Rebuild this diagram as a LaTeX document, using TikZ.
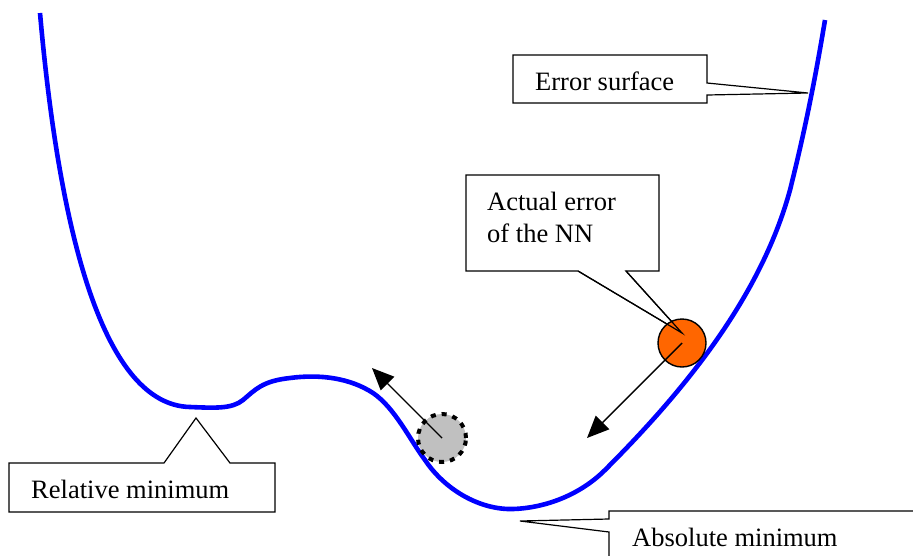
\documentclass[tikz,border=0pt]{standalone}
\usepackage{fontspec}
\setmainfont{Liberation Serif}
\usetikzlibrary{arrows.meta}
\begin{document}
\begin{tikzpicture}[x=1pt,y=-1pt,
  lbl/.style={anchor=base west, inner sep=0pt, font=\fontsize{26.5}{32}\selectfont},
  callout/.style={draw=black, line width=1.2pt, fill=white, line join=miter},
  surf/.style={draw={rgb,255:red,0;green,0;blue,255}, line width=4.6pt},
  mover/.style={draw=black, line width=1.4pt, -{Triangle[length=22pt,width=19pt]}}]
\useasboundingbox (0,0) rectangle (913,555);
\clip (0,0) rectangle (913,555);
% error surface
\draw[surf] (40,13) .. controls (60,240) and (105,405) .. (190,407)
  .. controls (215,408) and (232,409) .. (243,400)
  .. controls (255,390) and (262,381) .. (290,378)
  .. controls (320,374) and (350,378) .. (373,393)
  .. controls (395,408) and (410,440) .. (425,460)
  .. controls (445,490) and (480,510) .. (513,509)
  .. controls (545,508) and (580,495) .. (605,470)
  .. controls (680,395) and (760,300) .. (790,190)
  .. controls (805,130) and (815,80) .. (825,20);
% callouts
\draw[callout] (513,55) -- (707,55) -- (707,83) -- (808,93) -- (707,95) -- (707,103) -- (513,103) -- cycle;
\node[lbl] (es) at (535,90) {Error surface};
\draw[callout] (466,175) -- (659,175) -- (659,271) -- (626,271) -- (682,333) -- (578,271) -- (466,271) -- cycle;
\node[lbl] (ae1) at (487,210) {Actual error};
\node[lbl] (ae2) at (487,242) {of the NN};
\draw[callout] (9,463) -- (164,463) -- (196,418) -- (230,463) -- (275,463) -- (275,512) -- (9,512) -- cycle;
\node[lbl] (rm) at (31,498) {Relative minimum};
\draw[callout] (609,511) -- (930,511) -- (930,570) -- (609,570) -- (609,532) -- (520,521) -- (609,519) -- cycle;
\node[lbl] (am) at (632,546) {Absolute minimum};
% balls
\node[circle, draw=black, line width=1.4pt, fill={rgb,255:red,255;green,102;blue,0}, minimum size=48pt, inner sep=0pt] (ball) at (682,343) {};
\node[circle, draw=black, line width=4pt, dash pattern=on 5pt off 6pt, fill={rgb,255:red,192;green,192;blue,192}, minimum size=48pt, inner sep=0pt] (gball) at (442,438) {};
\coordinate (tipA) at (587,438);
\coordinate (tipB) at (372,368);
\draw[mover] (ball.center) -- (tipA);
\draw[mover] (gball.center) -- (tipB);
\draw[black, line width=1.2pt] (626,271) -- (682,333) -- (578,271);
\end{tikzpicture}
\end{document}
